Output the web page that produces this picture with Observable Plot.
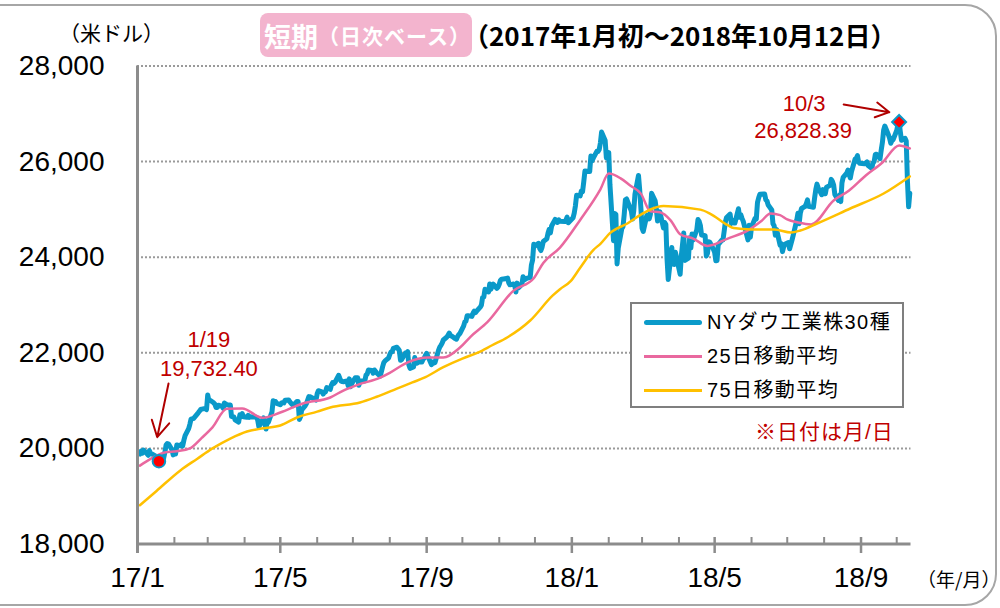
<!DOCTYPE html>
<html>
<head>
<meta charset="utf-8">
<script src="https://cdn.jsdelivr.net/npm/d3@7"></script>
<script src="https://cdn.jsdelivr.net/npm/@observablehq/plot@0.6"></script>
<style>
  body { margin: 0; background: #fff; }
  #wrap { position: relative; width: 1000px; height: 608px; overflow: hidden; background: #fff;
          font-family: "Liberation Sans", "Noto Sans CJK JP", sans-serif; }
  #chart { position: absolute; left: 0; top: 0; }
  .abs { position: absolute; white-space: nowrap; }
  .jp { font-family: "Noto Sans CJK JP", sans-serif; }
  #frame { position: absolute; left: -40px; top: 4px; width: 1033px; height: 598px;
           border: 2.5px solid #a6a6a6; border-radius: 32px; pointer-events: none; }
  #legend { position: absolute; left: 630px; top: 302px; width: 270px; height: 102px;
            border: 2px solid #7f7f7f; background: #fff; }
  .li { position: absolute; left: 0; height: 34px; width: 270px; }
  .sw { position: absolute; left: 12px; width: 58px; top: 50%; }
  .lt { position: absolute; left: 75px; top: 0; line-height: 34px; font-size: 20px; letter-spacing: 1.4px; color: #000;
        font-family: "Liberation Sans", "Noto Sans CJK JP", sans-serif; }
</style>
</head>
<body>
<div id="wrap">
  <div id="chart"></div>
  <div class="abs jp" style="left:59px; top:20px; font-size:21px; line-height:24px; color:#000;">（米ドル）</div>
  <div class="abs jp" style="left:260px; top:13px; width:212px; height:44px; background:#f3b4ce; border-radius:8px; color:#fff; font-weight:bold; display:flex; align-items:center;">
    <span style="font-size:27px; margin-left:4px;">短期</span><span style="font-size:21px; letter-spacing:1px;">（日次ベース）</span>
  </div>
  <div class="abs jp" style="left:463px; top:21px; font-size:26px; line-height:28px; font-weight:bold; color:#000;">（2017年1月初〜2018年10月12日）</div>
  <div class="abs jp" style="left:917px; top:567px; font-size:19px; line-height:24px; color:#000;">（年/月）</div>
  <div id="legend">
    <div class="li" style="top:1px;"><div class="sw" style="height:5px; margin-top:-2.5px; background:#0b9bca; border-radius:3px;"></div><div class="lt" id="l0"></div></div>
    <div class="li" style="top:35px;"><div class="sw" style="height:3px; margin-top:-1.5px; background:#e9689f;"></div><div class="lt" id="l1"></div></div>
    <div class="li" style="top:69px;"><div class="sw" style="height:3px; margin-top:-1.5px; background:#ffc000;"></div><div class="lt" id="l2"></div></div>
  </div>
  <div class="abs" id="note" style="left:755px; top:419px; font-size:21px; line-height:26px; letter-spacing:1px; color:#c00000; font-family:'Liberation Sans','Noto Sans CJK JP',sans-serif;"></div>
  <div id="frame"></div>
</div>
<script>
// ---------- data ----------
const seriesNames = ["NYダウ工業株30種", "25日移動平均", "75日移動平均"];
const noteText = "※日付は月/日";

const dow = [
["17/1/3",19882],["17/1/4",19942],["17/1/5",19899],["17/1/6",19964],["17/1/9",19887],["17/1/10",19855],["17/1/11",19954],["17/1/12",19892],["17/1/13",19886],["17/1/17",19826],["17/1/18",19804],["17/1/19",19732.4],["17/1/20",19827],["17/1/23",19799],["17/1/24",19913],["17/1/25",20069],["17/1/26",20101],["17/1/27",20094],["17/1/30",19971],["17/1/31",19864],
["17/2/1",19891],["17/2/2",19885],["17/2/3",20071],["17/2/6",20053],["17/2/7",20090],["17/2/8",20054],["17/2/9",20173],["17/2/10",20269],["17/2/13",20413],["17/2/14",20504],["17/2/15",20612],["17/2/16",20620],["17/2/17",20624],["17/2/21",20744],["17/2/22",20776],["17/2/23",20811],["17/2/24",20822],["17/2/27",20838],["17/2/28",20812],
["17/3/1",21116],["17/3/2",21003],["17/3/3",21006],["17/3/6",20954],["17/3/7",20925],["17/3/8",20856],["17/3/9",20858],["17/3/10",20903],["17/3/13",20881],["17/3/14",20837],["17/3/15",20950],["17/3/16",20934],["17/3/17",20915],["17/3/20",20906],["17/3/21",20669],["17/3/22",20662],["17/3/23",20656],["17/3/24",20597],["17/3/27",20551],["17/3/28",20701],["17/3/29",20660],["17/3/30",20729],["17/3/31",20663],
["17/4/3",20651],["17/4/4",20689],["17/4/5",20648],["17/4/6",20663],["17/4/7",20656],["17/4/10",20658],["17/4/11",20651],["17/4/12",20592],["17/4/13",20453],["17/4/17",20637],["17/4/18",20523],["17/4/19",20404],["17/4/20",20578],["17/4/21",20548],["17/4/24",20763],["17/4/25",20997],["17/4/26",20975],["17/4/27",20981],["17/4/28",20941],
["17/5/1",20913],["17/5/2",20950],["17/5/3",20957],["17/5/4",20951],["17/5/5",21007],["17/5/8",21013],["17/5/9",20975],["17/5/10",20944],["17/5/11",20919],["17/5/12",20897],["17/5/15",20982],["17/5/16",20980],["17/5/17",20607],["17/5/18",20663],["17/5/19",20805],["17/5/22",20895],["17/5/23",20938],["17/5/24",21012],["17/5/25",21083],["17/5/26",21080],["17/5/30",21029],["17/5/31",21009],
["17/6/1",21144],["17/6/2",21206],["17/6/5",21184],["17/6/6",21137],["17/6/7",21174],["17/6/8",21183],["17/6/9",21272],["17/6/12",21236],["17/6/13",21328],["17/6/14",21375],["17/6/15",21360],["17/6/16",21384],["17/6/19",21529],["17/6/20",21468],["17/6/21",21411],["17/6/22",21397],["17/6/23",21395],["17/6/26",21410],["17/6/27",21311],["17/6/28",21454],["17/6/29",21288],["17/6/30",21350],
["17/7/3",21479],["17/7/5",21478],["17/7/6",21320],["17/7/7",21414],["17/7/10",21409],["17/7/11",21409],["17/7/12",21532],["17/7/13",21554],["17/7/14",21638],["17/7/17",21630],["17/7/18",21574],["17/7/19",21641],["17/7/20",21611],["17/7/21",21580],["17/7/24",21513],["17/7/25",21613],["17/7/26",21711],["17/7/27",21797],["17/7/28",21830],["17/7/31",21891],
["17/8/1",21964],["17/8/2",22016],["17/8/3",22026],["17/8/4",22093],["17/8/7",22118],["17/8/8",22085],["17/8/9",22049],["17/8/10",21844],["17/8/11",21858],["17/8/14",21994],["17/8/15",21998],["17/8/16",22025],["17/8/17",21750],["17/8/18",21675],["17/8/21",21703],["17/8/22",21900],["17/8/23",21812],["17/8/24",21783],["17/8/25",21814],["17/8/28",21808],["17/8/29",21865],["17/8/30",21892],["17/8/31",21948],
["17/9/1",21988],["17/9/5",21753],["17/9/6",21807],["17/9/7",21784],["17/9/8",21798],["17/9/11",22057],["17/9/12",22119],["17/9/13",22158],["17/9/14",22203],["17/9/15",22268],["17/9/18",22331],["17/9/19",22370],["17/9/20",22412],["17/9/21",22360],["17/9/22",22350],["17/9/25",22297],["17/9/26",22284],["17/9/27",22341],["17/9/28",22381],["17/9/29",22405],
["17/10/2",22557],["17/10/3",22642],["17/10/4",22661],["17/10/5",22775],["17/10/6",22774],["17/10/9",22762],["17/10/10",22831],["17/10/11",22872],["17/10/12",22841],["17/10/13",22871],["17/10/16",22957],["17/10/17",22997],["17/10/18",23158],["17/10/19",23164],["17/10/20",23329],["17/10/23",23274],["17/10/24",23441],["17/10/25",23330],["17/10/26",23401],["17/10/27",23434],["17/10/30",23349],["17/10/31",23377],
["17/11/1",23436],["17/11/2",23517],["17/11/3",23539],["17/11/6",23549],["17/11/7",23557],["17/11/8",23563],["17/11/9",23462],["17/11/10",23422],["17/11/13",23440],["17/11/14",23409],["17/11/15",23272],["17/11/16",23458],["17/11/17",23358],["17/11/20",23431],["17/11/21",23591],["17/11/22",23526],["17/11/24",23558],["17/11/27",23580],["17/11/28",23837],["17/11/29",23940],["17/11/30",24272],
["17/12/1",24232],["17/12/4",24290],["17/12/5",24181],["17/12/6",24140],["17/12/7",24212],["17/12/8",24329],["17/12/11",24387],["17/12/12",24505],["17/12/13",24585],["17/12/14",24509],["17/12/15",24652],["17/12/18",24792],["17/12/19",24754],["17/12/20",24727],["17/12/21",24782],["17/12/22",24754],["17/12/26",24746],["17/12/27",24775],["17/12/28",24838],["17/12/29",24719],
["18/1/2",24825],["18/1/3",24922],["18/1/4",25075],["18/1/5",25296],["18/1/8",25283],["18/1/9",25386],["18/1/10",25370],["18/1/11",25575],["18/1/12",25803],["18/1/16",25793],["18/1/17",26116],["18/1/18",26018],["18/1/19",26072],["18/1/22",26215],["18/1/23",26211],["18/1/24",26253],["18/1/25",26393],["18/1/26",26617],["18/1/29",26440],["18/1/30",26077],["18/1/31",26149],
["18/2/1",26187],["18/2/2",25521],["18/2/5",24346],["18/2/6",24913],["18/2/7",24893],["18/2/8",23860],["18/2/9",24191],["18/2/12",24601],["18/2/13",24641],["18/2/14",24893],["18/2/15",25201],["18/2/16",25219],["18/2/20",24965],["18/2/21",24798],["18/2/22",24963],["18/2/23",25310],["18/2/26",25710],["18/2/27",25410],["18/2/28",25029],
["18/3/1",24609],["18/3/2",24538],["18/3/5",24875],["18/3/6",24885],["18/3/7",24801],["18/3/8",24896],["18/3/9",25336],["18/3/12",25179],["18/3/13",25008],["18/3/14",24759],["18/3/15",24874],["18/3/16",24947],["18/3/19",24611],["18/3/20",24727],["18/3/21",24683],["18/3/22",23958],["18/3/23",23533],["18/3/26",24202],["18/3/27",23857],["18/3/28",23849],["18/3/29",24103],
["18/4/2",23644],["18/4/3",24034],["18/4/4",24265],["18/4/5",24505],["18/4/6",23933],["18/4/9",23979],["18/4/10",24408],["18/4/11",24190],["18/4/12",24484],["18/4/13",24360],["18/4/16",24574],["18/4/17",24787],["18/4/18",24748],["18/4/19",24665],["18/4/20",24463],["18/4/23",24449],["18/4/24",24025],["18/4/25",24084],["18/4/26",24323],["18/4/27",24311],["18/4/30",24163],
["18/5/1",24100],["18/5/2",23925],["18/5/3",23930],["18/5/4",24263],["18/5/7",24357],["18/5/8",24361],["18/5/9",24543],["18/5/10",24740],["18/5/11",24831],["18/5/14",24900],["18/5/15",24707],["18/5/16",24769],["18/5/17",24714],["18/5/18",24715],["18/5/21",25013],["18/5/22",24834],["18/5/23",24886],["18/5/24",24812],["18/5/25",24753],["18/5/29",24362],["18/5/30",24668],["18/5/31",24416],
["18/6/1",24635],["18/6/4",24814],["18/6/5",24799],["18/6/6",25146],["18/6/7",25241],["18/6/8",25317],["18/6/11",25322],["18/6/12",25320],["18/6/13",25201],["18/6/14",25176],["18/6/15",25090],["18/6/18",24988],["18/6/19",24701],["18/6/20",24658],["18/6/21",24462],["18/6/22",24581],["18/6/25",24253],["18/6/26",24284],["18/6/27",24117],["18/6/28",24216],["18/6/29",24271],
["18/7/2",24307],["18/7/3",24175],["18/7/5",24357],["18/7/6",24456],["18/7/9",24777],["18/7/10",24920],["18/7/11",24701],["18/7/12",24925],["18/7/13",25019],["18/7/16",25064],["18/7/17",25120],["18/7/18",25199],["18/7/19",25065],["18/7/20",25058],["18/7/23",25044],["18/7/24",25242],["18/7/25",25415],["18/7/26",25528],["18/7/27",25451],["18/7/30",25307],["18/7/31",25415],
["18/8/1",25333],["18/8/2",25327],["18/8/3",25463],["18/8/6",25502],["18/8/7",25629],["18/8/8",25583],["18/8/9",25510],["18/8/10",25313],["18/8/13",25188],["18/8/14",25300],["18/8/15",25162],["18/8/16",25559],["18/8/17",25669],["18/8/20",25758],["18/8/21",25822],["18/8/22",25733],["18/8/23",25657],["18/8/24",25790],["18/8/27",26050],["18/8/28",26065],["18/8/29",26124],["18/8/30",25987],["18/8/31",25965],
["18/9/4",25953],["18/9/5",25975],["18/9/6",25996],["18/9/7",25917],["18/9/10",25858],["18/9/11",25972],["18/9/12",25999],["18/9/13",26145],["18/9/14",26155],["18/9/17",26062],["18/9/18",26247],["18/9/19",26406],["18/9/20",26657],["18/9/21",26744],["18/9/24",26562],["18/9/25",26492],["18/9/26",26385],["18/9/27",26440],["18/9/28",26458],
["18/10/1",26651],["18/10/2",26774],["18/10/3",26828.39],["18/10/4",26628],["18/10/5",26447],["18/10/8",26487],["18/10/9",26431],["18/10/10",25599],["18/10/11",25053],["18/10/12",25340]
];

const ma25 = [
["17/1/3",19640],["17/1/12",19780],["17/1/23",19910],["17/2/3",19940],["17/2/14",20000],["17/2/24",20220],["17/3/5",20440],["17/3/17",20830],["17/3/30",20835],["17/4/16",20640],["17/5/1",20750],["17/5/20",20940],["17/6/12",21065],["17/6/23",21210],["17/7/5",21330],["17/7/24",21480],["17/8/1",21580],["17/8/16",21800],["17/9/2",21900],["17/9/15",21900],["17/9/29",22110],["17/10/8",22340],["17/10/22",22640],["17/11/13",23300],["17/11/30",23560],["17/12/8",23880],["17/12/22",24200],
["18/1/8",24780],["18/1/25",25420],["18/2/1",25750],["18/2/11",25650],["18/2/19",25500],["18/2/28",25330],["18/3/8",24960],["18/3/16",24940],["18/3/25",24770],["18/4/2",24480],["18/4/13",24390],["18/4/25",24235],["18/5/12",24390],["18/5/29",24560],["18/6/9",24750],["18/6/17",24914],["18/6/25",24880],["18/7/1",24790],["18/7/10",24726],["18/7/21",24684],["18/8/9",25186],["18/8/22",25395],["18/9/5",25709],["18/9/19",25981],["18/10/3",26337],["18/10/12",26274]
];

const ma75 = [
["17/1/3",18810],["17/1/17",19110],["17/2/6",19540],["17/2/20",19780],["17/3/5",20000],["17/3/20",20207],["17/4/3",20354],["17/4/17",20420],["17/5/1",20479],["17/5/15",20646],["17/6/1",20770],["17/6/12",20856],["17/7/7",20960],["17/7/21",21080],["17/8/7",21250],["17/8/20",21380],["17/8/31",21490],["17/9/15",21700],["17/10/1",21880],["17/10/14",22003],["17/10/26",22158],["17/11/8",22326],["17/11/27",22676],["17/12/16",23200],["17/12/22",23330],["17/12/31",23500],
["18/1/8",23780],["18/1/19",24150],["18/1/25",24280],["18/2/2",24502],["18/2/17",24711],["18/3/2",24921],["18/3/8",24998],["18/3/19",25070],["18/4/19",24995],["18/4/27",24914],["18/5/12",24669],["18/5/17",24610],["18/6/1",24580],["18/6/20",24579],["18/7/4",24517],["18/7/12",24559],["18/7/26",24705],["18/8/23",25019],["18/9/20",25333],["18/10/12",25690]
];

const xDomain = ["17/1/1", "18/10/13"];
const xMajorTicks = ["17/1/1","17/5/1","17/9/1","18/1/1","18/5/1","18/9/1"];
const xTickLabels = ["17/1","17/5","17/9","18/1","18/5","18/9"];
const xMinorTicks = ["17/2/1","17/3/1","17/4/1","17/6/1","17/7/1","17/8/1","17/10/1","17/11/1","17/12/1",
                     "18/2/1","18/3/1","18/4/1","18/6/1","18/7/1","18/8/1","18/10/1"];
const yTicks = [18000, 20000, 22000, 24000, 26000, 28000];
const yTickLabels = ["18,000","20,000","22,000","24,000","26,000","28,000"];
const yGrid = [20000, 22000, 24000, 26000, 28000];

const callouts = [
  {date: "17/1/19", value: 19732.40, day: "1/19", label: "19,732.40", shape: "circle"},
  {date: "18/10/3", value: 26828.39, day: "10/3", label: "26,828.39", shape: "diamond2"}
];
const calloutArrows = [
  {from: ["2017-01-27T02:00", 21358], to: ["2017-01-17T14:00", 20234]},
  {from: ["2018-08-17T10:00", 27195], to: ["2018-09-24T19:00", 27034]}
];

// ---------- chart ----------
document.getElementById("l0").textContent = seriesNames[0];
document.getElementById("l1").textContent = seriesNames[1];
document.getElementById("l2").textContent = seriesNames[2];
document.getElementById("note").textContent = noteText;

const parse = d3.timeParse("%y/%m/%d");
const rows = arr => arr.map(([d, v]) => ({date: parse(d), value: v}));
const dowRows = rows(dow), ma25Rows = rows(ma25), ma75Rows = rows(ma75);
const x0 = parse(xDomain[0]), x1 = parse(xDomain[1]);
const calloutRows = callouts.map(c => ({...c, d: parse(c.date)}));
const arrowRows = calloutArrows.map(a => ({xa: new Date(a.from[0]), ya: a.from[1], xb: new Date(a.to[0]), yb: a.to[1]}));

const BLUE = "#0a99c9", PINK = "#e9689f", GOLD = "#ffc000", AXIS = "#8c8c8c", RED = "#c00000";

const chart = Plot.plot({
  width: 1000, height: 608,
  marginTop: 65.5, marginRight: 89.5, marginBottom: 64.5, marginLeft: 137,
  x: {type: "time", domain: [x0, x1], axis: null},
  y: {domain: [18000, 28000], axis: null},
  style: {fontFamily: "'Liberation Sans', Arial, sans-serif", background: "transparent", overflow: "visible"},
  marks: [
    Plot.ruleY(yGrid, {y: d => d, x1: () => x0, x2: () => x1, stroke: "#9a9a9a", strokeWidth: 2, strokeDasharray: "2,2"}),
    Plot.line(dowRows, {x: "date", y: "value", stroke: BLUE, strokeWidth: 5, strokeLinejoin: "round", strokeLinecap: "round"}),
    Plot.line(ma25Rows, {x: "date", y: "value", stroke: PINK, strokeWidth: 2.5, curve: "monotone-x"}),
    Plot.line(ma75Rows, {x: "date", y: "value", stroke: GOLD, strokeWidth: 2.5, curve: "monotone-x"}),
    // axes
    Plot.ruleY([18000], {y: d => d, x1: () => x0, x2: () => x1, stroke: AXIS, strokeWidth: 3}),
    Plot.ruleX([x0], {x: d => d, y1: () => 28000, y2: () => 18000, insetBottom: -9.5, stroke: AXIS, strokeWidth: 3}),
    Plot.ruleX(xMinorTicks, {x: d => parse(d), y1: () => 18000, y2: () => 18000, insetTop: -6.5, stroke: AXIS, strokeWidth: 2}),
    Plot.ruleX(xMajorTicks, {x: d => parse(d), y1: () => 18000, y2: () => 18000, insetTop: -6.5, insetBottom: -9.5, stroke: AXIS, strokeWidth: 2.5}),
    Plot.text(xTickLabels, {x: (d, i) => parse(xMajorTicks[i]), text: d => d, frameAnchor: "bottom", dy: 34.5, lineAnchor: "middle", fontSize: 28, fill: "#000"}),
    Plot.text(yTickLabels, {y: (d, i) => yTicks[i], text: d => d, frameAnchor: "left", dx: -33, textAnchor: "end", lineAnchor: "middle", fontSize: 28, fill: "#000"}),
    // callouts
    Plot.arrow(arrowRows, {x1: "xa", y1: "ya", x2: "xb", y2: "yb", stroke: "#b00000", strokeWidth: 2, headLength: 20, headAngle: 58}),
    Plot.dot(calloutRows, {x: "d", y: "value", symbol: "shape", r: 6.3, fill: "#ff0000", stroke: BLUE, strokeWidth: 2}),
    Plot.text([calloutRows[0]], {x: "d", y: "value", text: "day", dx: 50, dy: -121, lineAnchor: "middle", fontSize: 22, fill: RED}),
    Plot.text([calloutRows[0]], {x: "d", y: "value", text: "label", dx: 50, dy: -92, lineAnchor: "middle", fontSize: 22, fill: RED}),
    Plot.text([calloutRows[1]], {x: "d", y: "value", text: "day", dx: -95, dy: -18, lineAnchor: "middle", fontSize: 22, fill: RED}),
    Plot.text([calloutRows[1]], {x: "d", y: "value", text: "label", dx: -96, dy: 9, lineAnchor: "middle", fontSize: 22, fill: RED})
  ]
});
document.getElementById("chart").appendChild(chart);
</script>
</body>
</html>
